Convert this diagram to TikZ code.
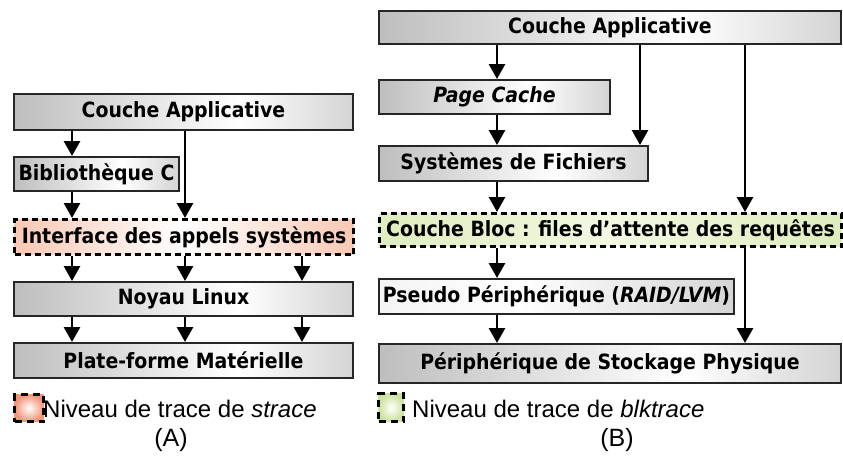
\documentclass[tikz,border=0pt]{standalone}
\usepackage{fontspec}
\setmainfont{Liberation Sans}
\newfontfamily\boxfont{DejaVu Sans Condensed}
\usetikzlibrary{arrows.meta,calc}
\definecolor{rA}{HTML}{E23A14}
\definecolor{sA}{HTML}{EF7A54}
\definecolor{sB}{HTML}{F7BDA4}
\definecolor{gA}{HTML}{A9C865}
\definecolor{gB}{HTML}{CDE29E}
\definecolor{gC}{HTML}{F3F8E2}
\pgfdeclarehorizontalshading{grayshade}{100bp}{color(0bp)=(black!45); color(58bp)=(white); color(100bp)=(black!42)}
\pgfdeclarehorizontalshading{lightshade}{100bp}{color(0bp)=(black!10); color(45bp)=(white); color(100bp)=(black!30)}
\pgfdeclarehorizontalshading{redshade}{100bp}{color(0bp)=(rA); color(1.5bp)=(rA); color(2.5bp)=(sA); color(20bp)=(sB); color(50bp)=(white); color(80bp)=(sB); color(97.5bp)=(sA); color(98.5bp)=(rA); color(100bp)=(rA)}
\pgfdeclarehorizontalshading{greenshade}{100bp}{color(0bp)=(gA); color(2bp)=(gB); color(50bp)=(gC); color(96bp)=(gB); color(97bp)=(gA); color(100bp)=(gA)}
\tikzset{
  box/.style={draw=black!85, line width=2pt, anchor=north west, inner sep=0pt,
    font=\boxfont\bfseries\fontsize{21}{24}\selectfont, shading=grayshade},
  lightbox/.style={box, shading=lightshade},
  tracebox/.style={box, draw=black, line width=3.2pt, dash pattern=on 6pt off 4pt},
  redbox/.style={tracebox, shading=redshade},
  greenbox/.style={tracebox, shading=greenshade},
  legsq/.style={draw=black, line width=3.2pt, dash pattern=on 7pt off 5pt, anchor=north west, inner sep=0pt},
  legtext/.style={anchor=base west, inner sep=0pt, font=\fontsize{24}{27}\selectfont},
  caption/.style={inner sep=0pt, font=\fontsize{25}{28}\selectfont},
  arr/.style={line width=2.8pt, -{Triangle[width=16pt,length=15pt]}}
}
\begin{document}
\begin{tikzpicture}[x=1pt,y=-1pt]
\useasboundingbox (0,0) rectangle (843,459);
% ---- left panel (A)
\node[box, minimum width=339pt, minimum height=36pt] (capA) at (13,93) {Couche Applicative};
\node[box, minimum width=165pt, minimum height=34pt] (bib) at (13,156) {Biblioth\`eque C};
\node[redbox, minimum width=339pt, minimum height=35pt] (iface) at (13,218) {Interface des appels syst\`emes};
\node[box, minimum width=339pt, minimum height=34pt] (noyau) at (13,281) {Noyau Linux};
\node[box, minimum width=339pt, minimum height=35pt] (plate) at (13,342) {Plate-forme Mat\'erielle};
\node[legsq, minimum width=29pt, minimum height=27pt, inner color=white, outer color=sA!80] (lsqA) at (13,393) {};
\node[legtext] (legA) at (43,417) {Niveau de trace de \textit{strace}};
\node[caption] (labA) at (171,440) {(A)};
\coordinate (a1) at (72,0);
\coordinate (a2) at (185,0);
\coordinate (a3) at (302,0);
\draw[arr] (capA.south -| a1) -- (bib.north -| a1);
\draw[arr] (capA.south -| a2) -- (iface.north -| a2);
\draw[arr] (bib.south -| a1) -- (iface.north -| a1);
\foreach \c in {a1,a2,a3}{
  \draw[arr] (iface.south -| \c) -- (noyau.north -| \c);
  \draw[arr] (noyau.south -| \c) -- (plate.north -| \c);
}
% ---- right panel (B)
\node[box, minimum width=462pt, minimum height=33pt] (capB) at (378,10) {Couche Applicative};
\node[box, minimum width=231pt, minimum height=34pt] (page) at (378,79) {\itshape Page Cache};
\node[box, minimum width=269pt, minimum height=35pt] (sysf) at (378,145) {Syst\`emes de Fichiers};
\node[greenbox, minimum width=462pt, minimum height=33pt] (bloc) at (378,212) {Couche Bloc : files d’attente des requ\^etes};
\node[lightbox, minimum width=355pt, minimum height=35pt] (pseudo) at (378,278) {Pseudo P\'eriph\'erique (\textit{RAID/LVM})};
\node[box, minimum width=462pt, minimum height=39pt] (phys) at (378,343) {P\'eriph\'erique de Stockage Physique};
\node[legsq, minimum width=25pt, minimum height=28pt, inner color=white, outer color=gB] (lsqB) at (377,392) {};
\node[legtext] (legB) at (412,417) {Niveau de trace de \textit{blktrace}};
\node[caption] (labB) at (617,440) {(B)};
\coordinate (b1) at (497,0);
\coordinate (b2) at (640,0);
\coordinate (b3) at (745,0);
\draw[arr] (capB.south -| b1) -- (page.north -| b1);
\draw[arr] (page.south -| b1) -- (sysf.north -| b1);
\draw[arr] (capB.south -| b2) -- (sysf.north -| b2);
\draw[arr] (sysf.south -| b1) -- (bloc.north -| b1);
\draw[arr] (capB.south -| b3) -- (bloc.north -| b3);
\draw[arr] (bloc.south -| b1) -- (pseudo.north -| b1);
\draw[arr] (bloc.south -| b3) -- (phys.north -| b3);
\draw[arr] (pseudo.south -| b1) -- (phys.north -| b1);
\end{tikzpicture}
\end{document}
